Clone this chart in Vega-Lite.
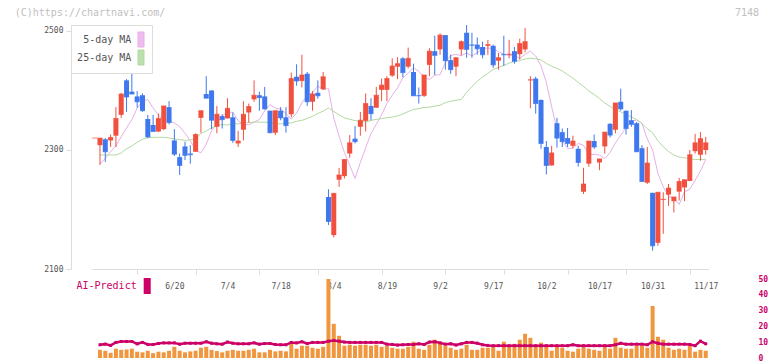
{
  "$schema": "https://vega.github.io/schema/vega-lite/v6.json",
  "background": "white",
  "padding": {"left": 14, "top": 7, "right": 0, "bottom": 0},
  "title": {"text": "(C)https://chartnavi.com/", "anchor": "start", "frame": "bounds", "font": "DejaVu Sans Mono", "fontSize": 10, "fontWeight": "normal", "color": "#c0c0c0", "dx": -29, "dy": 10, "offset": 0},
  "config": {"view": {"stroke": null}, "font": "DejaVu Sans Mono"},
  "spacing": 0,
  "bounds": "flush",
  "resolve": {"scale": {"color": "independent"}, "legend": {"color": "independent"}},
  "datasets": {
    "p": [
      {"d":"2025-05-30","o":2320,"h":2320,"l":2320,"c":2320,"v":null,"ai":null,"m5":null,"m25":null},
      {"d":"2025-06-02","o":2308,"h":2320,"l":2275,"c":2320,"v":5.2,"ai":8.4,"m5":2276,"m25":2291.6},
      {"d":"2025-06-03","o":2318,"h":2320,"l":2280,"c":2297,"v":4.6,"ai":8.8,"m5":2286,"m25":2291.6},
      {"d":"2025-06-04","o":2316,"h":2326,"l":2305,"c":2321,"v":3.3,"ai":8.0,"m5":2297,"m25":2291.6},
      {"d":"2025-06-05","o":2324,"h":2372,"l":2305,"c":2353,"v":5.9,"ai":9.9,"m5":2307,"m25":2291.6},
      {"d":"2025-06-06","o":2359,"h":2396,"l":2354,"c":2394,"v":5.2,"ai":10.5,"m5":2322.2,"m25":2295.0},
      {"d":"2025-06-09","o":2417,"h":2419,"l":2364,"c":2389,"v":5.4,"ai":10.5,"m5":2337.0,"m25":2302.0},
      {"d":"2025-06-10","o":2398,"h":2434,"l":2394,"c":2394,"v":5.9,"ai":10.5,"m5":2350.8,"m25":2306.7},
      {"d":"2025-06-11","o":2390,"h":2399,"l":2371,"c":2381,"v":4.0,"ai":9.0,"m5":2370.2,"m25":2312.9},
      {"d":"2025-06-12","o":2392,"h":2395,"l":2364,"c":2366,"v":3.6,"ai":9.9,"m5":2382.2,"m25":2317.9},
      {"d":"2025-06-13","o":2352,"h":2359,"l":2320,"c":2322,"v":4.6,"ai":8.6,"m5":2384.8,"m25":2320.7},
      {"d":"2025-06-16","o":2342,"h":2359,"l":2331,"c":2331,"v":3.1,"ai":8.6,"m5":2370.4,"m25":2321.3},
      {"d":"2025-06-17","o":2331,"h":2361,"l":2330,"c":2353,"v":4.0,"ai":9.2,"m5":2358.8,"m25":2321.3},
      {"d":"2025-06-18","o":2335,"h":2374,"l":2333,"c":2374,"v":3.6,"ai":9.6,"m5":2350.6,"m25":2321.3},
      {"d":"2025-06-19","o":2372,"h":2382,"l":2343,"c":2346,"v":4.6,"ai":9.6,"m5":2349.2,"m25":2320.2},
      {"d":"2025-06-20","o":2316,"h":2335,"l":2290,"c":2293,"v":7.1,"ai":9.6,"m5":2345.2,"m25":2318.5},
      {"d":"2025-06-23","o":2288,"h":2294,"l":2258,"c":2274,"v":4.6,"ai":8.8,"m5":2339.4,"m25":2317.4},
      {"d":"2025-06-24","o":2306,"h":2314,"l":2283,"c":2291,"v":3.6,"ai":9.4,"m5":2328.0,"m25":2316.2},
      {"d":"2025-06-25","o":2294,"h":2308,"l":2277,"c":2292,"v":4.2,"ai":9.4,"m5":2315.6,"m25":2316.8},
      {"d":"2025-06-26","o":2297,"h":2328,"l":2297,"c":2326,"v":4.6,"ai":9.4,"m5":2299.2,"m25":2319.0},
      {"d":"2025-06-27","o":2354,"h":2366,"l":2329,"c":2366,"v":6.5,"ai":9.4,"m5":2295.2,"m25":2327.5},
      {"d":"2025-06-30","o":2394,"h":2424,"l":2387,"c":2387,"v":7.1,"ai":10.3,"m5":2309.8,"m25":2332.0},
      {"d":"2025-07-01","o":2400,"h":2400,"l":2335,"c":2350,"v":5.2,"ai":9.4,"m5":2332.4,"m25":2337.0},
      {"d":"2025-07-02","o":2339,"h":2374,"l":2328,"c":2360,"v":4.4,"ai":9.0,"m5":2344.2,"m25":2340.9},
      {"d":"2025-07-03","o":2357,"h":2360,"l":2336,"c":2351,"v":3.6,"ai":8.8,"m5":2357.8,"m25":2342.6},
      {"d":"2025-07-04","o":2353,"h":2387,"l":2353,"c":2370,"v":4.6,"ai":10.1,"m5":2362.8,"m25":2342.0},
      {"d":"2025-07-07","o":2355,"h":2363,"l":2312,"c":2316,"v":5.2,"ai":9.4,"m5":2363.6,"m25":2344.0},
      {"d":"2025-07-08","o":2311,"h":2332,"l":2305,"c":2315,"v":4.6,"ai":9.0,"m5":2349.4,"m25":2343.9},
      {"d":"2025-07-09","o":2334,"h":2382,"l":2316,"c":2360,"v":4.6,"ai":9.0,"m5":2342.4,"m25":2344.6},
      {"d":"2025-07-10","o":2363,"h":2378,"l":2346,"c":2373,"v":5.2,"ai":9.0,"m5":2342.4,"m25":2346.2},
      {"d":"2025-07-11","o":2385,"h":2417,"l":2381,"c":2392,"v":5.9,"ai":9.6,"m5":2346.8,"m25":2347.0},
      {"d":"2025-07-14","o":2392,"h":2398,"l":2366,"c":2388,"v":3.6,"ai":8.8,"m5":2351.2,"m25":2346.9},
      {"d":"2025-07-15","o":2390,"h":2406,"l":2368,"c":2369,"v":3.6,"ai":9.2,"m5":2365.6,"m25":2346.8},
      {"d":"2025-07-16","o":2366,"h":2366,"l":2328,"c":2329,"v":5.2,"ai":9.2,"m5":2376.4,"m25":2345.8},
      {"d":"2025-07-17","o":2329,"h":2366,"l":2325,"c":2366,"v":4.2,"ai":8.6,"m5":2370.2,"m25":2343.8},
      {"d":"2025-07-18","o":2366,"h":2372,"l":2350,"c":2354,"v":4.6,"ai":8.4,"m5":2368.8,"m25":2343.8},
      {"d":"2025-07-22","o":2355,"h":2372,"l":2329,"c":2341,"v":4.2,"ai":8.4,"m5":2361.2,"m25":2345.0},
      {"d":"2025-07-23","o":2360,"h":2430,"l":2355,"c":2420,"v":9.0,"ai":9.9,"m5":2351.8,"m25":2345.4},
      {"d":"2025-07-24","o":2423,"h":2444,"l":2408,"c":2416,"v":5.9,"ai":9.6,"m5":2362.0,"m25":2348.1},
      {"d":"2025-07-25","o":2416,"h":2460,"l":2405,"c":2426,"v":7.8,"ai":10.3,"m5":2379.4,"m25":2349.8},
      {"d":"2025-07-28","o":2428,"h":2431,"l":2374,"c":2381,"v":7.8,"ai":9.2,"m5":2391.4,"m25":2353.0},
      {"d":"2025-07-29","o":2381,"h":2399,"l":2366,"c":2394,"v":6.5,"ai":9.9,"m5":2396.8,"m25":2356.5},
      {"d":"2025-07-30","o":2396,"h":2417,"l":2386,"c":2391,"v":5.9,"ai":9.9,"m5":2407.4,"m25":2361.3},
      {"d":"2025-07-31","o":2402,"h":2431,"l":2401,"c":2423,"v":7.1,"ai":9.9,"m5":2401.6,"m25":2365.3},
      {"d":"2025-08-01","o":2221,"h":2234,"l":2174,"c":2180,"v":50.1,"ai":10.7,"m5":2403.0,"m25":2370.6},
      {"d":"2025-08-04","o":2157,"h":2228,"l":2153,"c":2227,"v":21.7,"ai":11.1,"m5":2353.8,"m25":2364.7},
      {"d":"2025-08-05","o":2250,"h":2270,"l":2238,"c":2258,"v":14.1,"ai":10.7,"m5":2323.0,"m25":2359.2},
      {"d":"2025-08-06","o":2256,"h":2284,"l":2252,"c":2284,"v":7.8,"ai":10.1,"m5":2295.8,"m25":2354.0},
      {"d":"2025-08-07","o":2294,"h":2325,"l":2287,"c":2312,"v":8.4,"ai":9.9,"m5":2274.4,"m25":2351.4},
      {"d":"2025-08-08","o":2319,"h":2340,"l":2311,"c":2314,"v":7.8,"ai":9.9,"m5":2252.2,"m25":2349.4},
      {"d":"2025-08-12","o":2339,"h":2364,"l":2324,"c":2350,"v":8.4,"ai":9.9,"m5":2279.0,"m25":2348.0},
      {"d":"2025-08-13","o":2349,"h":2395,"l":2331,"c":2378,"v":8.4,"ai":9.9,"m5":2303.6,"m25":2347.2},
      {"d":"2025-08-14","o":2374,"h":2387,"l":2350,"c":2361,"v":7.8,"ai":9.9,"m5":2327.6,"m25":2349.6},
      {"d":"2025-08-15","o":2371,"h":2406,"l":2371,"c":2392,"v":8.4,"ai":9.9,"m5":2343.0,"m25":2351.5},
      {"d":"2025-08-18","o":2401,"h":2420,"l":2382,"c":2409,"v":7.1,"ai":9.9,"m5":2359.0,"m25":2352.8},
      {"d":"2025-08-19","o":2401,"h":2424,"l":2382,"c":2420,"v":7.8,"ai":8.8,"m5":2378.0,"m25":2354.2},
      {"d":"2025-08-20","o":2425,"h":2454,"l":2423,"c":2441,"v":6.5,"ai":8.6,"m5":2392.0,"m25":2355.3},
      {"d":"2025-08-21","o":2440,"h":2456,"l":2419,"c":2445,"v":5.9,"ai":8.2,"m5":2404.6,"m25":2357.4},
      {"d":"2025-08-22","o":2454,"h":2456,"l":2422,"c":2430,"v":5.9,"ai":8.4,"m5":2421.4,"m25":2360.5},
      {"d":"2025-08-25","o":2440,"h":2472,"l":2437,"c":2454,"v":7.1,"ai":8.6,"m5":2429.0,"m25":2364.5},
      {"d":"2025-08-26","o":2431,"h":2445,"l":2391,"c":2391,"v":10.3,"ai":8.6,"m5":2438.0,"m25":2368.0},
      {"d":"2025-08-27","o":2392,"h":2405,"l":2378,"c":2391,"v":5.9,"ai":9.0,"m5":2432.2,"m25":2369.5},
      {"d":"2025-08-28","o":2391,"h":2426,"l":2389,"c":2426,"v":5.2,"ai":8.6,"m5":2422.2,"m25":2371.5},
      {"d":"2025-08-29","o":2443,"h":2471,"l":2424,"c":2466,"v":8.4,"ai":10.1,"m5":2418.4,"m25":2371.8},
      {"d":"2025-09-01","o":2466,"h":2492,"l":2426,"c":2459,"v":11.6,"ai":10.3,"m5":2425.6,"m25":2373.8},
      {"d":"2025-09-02","o":2469,"h":2496,"l":2460,"c":2493,"v":10.3,"ai":9.6,"m5":2426.6,"m25":2375.1},
      {"d":"2025-09-03","o":2493,"h":2493,"l":2435,"c":2450,"v":7.8,"ai":8.8,"m5":2447.0,"m25":2379.6},
      {"d":"2025-09-04","o":2451,"h":2460,"l":2428,"c":2435,"v":6.5,"ai":9.0,"m5":2458.8,"m25":2381.8},
      {"d":"2025-09-05","o":2440,"h":2456,"l":2424,"c":2455,"v":5.2,"ai":8.2,"m5":2460.6,"m25":2383.6},
      {"d":"2025-09-08","o":2469,"h":2484,"l":2459,"c":2482,"v":5.9,"ai":9.0,"m5":2458.4,"m25":2384.8},
      {"d":"2025-09-09","o":2497,"h":2510,"l":2455,"c":2469,"v":8.4,"ai":9.9,"m5":2463.0,"m25":2396.9},
      {"d":"2025-09-10","o":2477,"h":2497,"l":2455,"c":2476,"v":5.2,"ai":9.9,"m5":2458.2,"m25":2406.6},
      {"d":"2025-09-11","o":2477,"h":2489,"l":2460,"c":2470,"v":5.2,"ai":9.4,"m5":2463.4,"m25":2415.3},
      {"d":"2025-09-12","o":2473,"h":2482,"l":2454,"c":2460,"v":6.5,"ai":8.4,"m5":2470.4,"m25":2422.8},
      {"d":"2025-09-16","o":2475,"h":2485,"l":2460,"c":2477,"v":6.5,"ai":8.0,"m5":2471.4,"m25":2428.7},
      {"d":"2025-09-17","o":2475,"h":2477,"l":2438,"c":2443,"v":7.8,"ai":7.8,"m5":2470.4,"m25":2435.2},
      {"d":"2025-09-18","o":2450,"h":2463,"l":2435,"c":2455,"v":4.6,"ai":7.8,"m5":2465.2,"m25":2438.9},
      {"d":"2025-09-19","o":2461,"h":2492,"l":2441,"c":2460,"v":10.3,"ai":7.8,"m5":2461.0,"m25":2442.0},
      {"d":"2025-09-22","o":2460,"h":2485,"l":2454,"c":2461,"v":7.1,"ai":7.8,"m5":2459.0,"m25":2446.0},
      {"d":"2025-09-24","o":2466,"h":2473,"l":2445,"c":2449,"v":9.0,"ai":7.8,"m5":2459.2,"m25":2448.7},
      {"d":"2025-09-25","o":2461,"h":2487,"l":2452,"c":2479,"v":11.6,"ai":7.8,"m5":2453.6,"m25":2450.3},
      {"d":"2025-09-26","o":2469,"h":2505,"l":2464,"c":2482,"v":15.4,"ai":7.8,"m5":2460.8,"m25":2452.7},
      {"d":"2025-09-29","o":2417,"h":2424,"l":2370,"c":2418,"v":12.8,"ai":7.8,"m5":2466.2,"m25":2454.3},
      {"d":"2025-09-30","o":2420,"h":2423,"l":2361,"c":2378,"v":7.1,"ai":7.8,"m5":2457.8,"m25":2453.2},
      {"d":"2025-10-01","o":2384,"h":2385,"l":2302,"c":2311,"v":9.7,"ai":7.8,"m5":2441.2,"m25":2451.2},
      {"d":"2025-10-02","o":2305,"h":2315,"l":2259,"c":2274,"v":7.8,"ai":7.8,"m5":2413.6,"m25":2445.4},
      {"d":"2025-10-03","o":2274,"h":2307,"l":2274,"c":2295,"v":4.6,"ai":7.8,"m5":2372.6,"m25":2440.8},
      {"d":"2025-10-06","o":2345,"h":2354,"l":2304,"c":2320,"v":7.1,"ai":7.8,"m5":2335.2,"m25":2436.9},
      {"d":"2025-10-07","o":2330,"h":2336,"l":2305,"c":2314,"v":6.5,"ai":7.8,"m5":2315.6,"m25":2432.7},
      {"d":"2025-10-08","o":2320,"h":2337,"l":2305,"c":2311,"v":4.6,"ai":7.8,"m5":2302.8,"m25":2426.6},
      {"d":"2025-10-09","o":2307,"h":2324,"l":2303,"c":2315,"v":4.0,"ai":8.4,"m5":2302.8,"m25":2420.7},
      {"d":"2025-10-10","o":2302,"h":2307,"l":2272,"c":2279,"v":5.9,"ai":7.8,"m5":2311.0,"m25":2413.6},
      {"d":"2025-10-14","o":2230,"h":2270,"l":2226,"c":2243,"v":7.1,"ai":7.8,"m5":2307.8,"m25":2406.7},
      {"d":"2025-10-15","o":2277,"h":2315,"l":2272,"c":2315,"v":5.9,"ai":7.8,"m5":2292.4,"m25":2399.0},
      {"d":"2025-10-16","o":2315,"h":2326,"l":2302,"c":2305,"v":5.2,"ai":7.8,"m5":2292.6,"m25":2393.4},
      {"d":"2025-10-17","o":2279,"h":2285,"l":2266,"c":2285,"v":4.6,"ai":7.8,"m5":2291.4,"m25":2386.4},
      {"d":"2025-10-20","o":2306,"h":2330,"l":2294,"c":2330,"v":7.1,"ai":7.8,"m5":2285.4,"m25":2379.0},
      {"d":"2025-10-21","o":2344,"h":2345,"l":2321,"c":2325,"v":5.9,"ai":7.8,"m5":2295.6,"m25":2373.2},
      {"d":"2025-10-22","o":2334,"h":2379,"l":2328,"c":2379,"v":12.8,"ai":8.4,"m5":2312.0,"m25":2367.4},
      {"d":"2025-10-23","o":2381,"h":2403,"l":2366,"c":2369,"v":6.5,"ai":9.4,"m5":2324.8,"m25":2364.1},
      {"d":"2025-10-24","o":2366,"h":2366,"l":2326,"c":2336,"v":5.9,"ai":8.8,"m5":2337.6,"m25":2359.8},
      {"d":"2025-10-27","o":2350,"h":2367,"l":2339,"c":2343,"v":5.9,"ai":8.8,"m5":2347.8,"m25":2355.5},
      {"d":"2025-10-28","o":2345,"h":2347,"l":2297,"c":2297,"v":7.8,"ai":8.8,"m5":2350.4,"m25":2351.0},
      {"d":"2025-10-29","o":2303,"h":2308,"l":2247,"c":2247,"v":7.8,"ai":8.8,"m5":2344.8,"m25":2344.5},
      {"d":"2025-10-30","o":2245,"h":2305,"l":2243,"c":2278,"v":6.5,"ai":8.4,"m5":2318.4,"m25":2336.0},
      {"d":"2025-10-31","o":2228,"h":2228,"l":2131,"c":2139,"v":33.0,"ai":10.3,"m5":2300.2,"m25":2329.1},
      {"d":"2025-11-04","o":2144,"h":2229,"l":2139,"c":2229,"v":13.5,"ai":9.4,"m5":2260.8,"m25":2315.5},
      {"d":"2025-11-05","o":2216,"h":2229,"l":2159,"c":2217,"v":11.6,"ai":8.8,"m5":2238.0,"m25":2305.4},
      {"d":"2025-11-06","o":2225,"h":2243,"l":2206,"c":2236,"v":6.5,"ai":8.8,"m5":2222.0,"m25":2297.4},
      {"d":"2025-11-07","o":2214,"h":2221,"l":2195,"c":2221,"v":5.2,"ai":8.8,"m5":2219.8,"m25":2291.7},
      {"d":"2025-11-10","o":2230,"h":2253,"l":2215,"c":2247,"v":5.9,"ai":8.8,"m5":2208.4,"m25":2288.1},
      {"d":"2025-11-11","o":2237,"h":2250,"l":2214,"c":2250,"v":5.2,"ai":8.8,"m5":2230.0,"m25":2287.0},
      {"d":"2025-11-12","o":2248,"h":2300,"l":2248,"c":2292,"v":7.8,"ai":8.6,"m5":2234.2,"m25":2285.2},
      {"d":"2025-11-13","o":2298,"h":2327,"l":2294,"c":2312,"v":4.0,"ai":7.8,"m5":2249.2,"m25":2284.1},
      {"d":"2025-11-14","o":2292,"h":2330,"l":2282,"c":2319,"v":5.2,"ai":10.7,"m5":2264.4,"m25":2284.0},
      {"d":"2025-11-17","o":2300,"h":2322,"l":2292,"c":2312,"v":4.6,"ai":9.0,"m5":2284.0,"m25":2284.3}
    ]
  },
  "vconcat": [
    {
      "width": 682,
      "height": 244,
      "data": {"name": "p"},
      "title": {"text": "7148", "anchor": "end", "frame": "group", "font": "DejaVu Sans Mono", "fontSize": 10, "fontWeight": "normal", "color": "#c0c0c0", "offset": 7, "dx": 6},
      "encoding": {
        "x": {"field": "d", "type": "ordinal", "scale": {"type": "point", "range": [21, 637.4]},
              "axis": {"orient": "bottom", "values": ["2025-06-11","2025-06-26","2025-07-14","2025-07-30","2025-08-18","2025-09-03","2025-09-19","2025-10-08","2025-10-24","2025-11-12"], "labels": false, "title": null, "grid": false, "domainColor": "#dcdcdc", "tickColor": "#dcdcdc", "tickSize": 5}}
      },
      "layer": [
        {
          "transform": [{"fold": ["m5", "m25"], "as": ["k", "val"]}],
          "mark": {"type": "line", "strokeWidth": 1},
          "encoding": {
            "y": {"field": "val", "type": "quantitative", "scale": {"domain": [2100, 2510], "nice": false, "zero": false},
                  "axis": {"values": [2100, 2300, 2500], "format": "d", "title": null, "grid": false, "tickSize": 5, "labelPadding": 3, "domainColor": "#dcdcdc", "tickColor": "#dcdcdc", "labelFont": "DejaVu Sans Mono", "labelFontSize": 8, "labelColor": "#555555", "labelOverlap": false, "labelFlush": false}},
            "color": {"field": "k", "type": "nominal", "scale": {"domain": ["m5", "m25"], "range": ["#e6b0e6", "#b2d9a2"]},
                      "legend": {"title": " ", "titleFontSize": 1, "titlePadding": 2.5, "orient": "top-left", "offset": 0, "padding": 6, "fillColor": "#ffffff", "strokeColor": "#dddddd",
                                 "symbolType": "M-0.857,-2.14H0.857V2.14H-0.857Z", "symbolSize": 49, "symbolStrokeWidth": 1, "symbolStrokeColor": "#555555",
                                 "labelAlign": "right", "labelOffset": -14.7, "symbolOffset": 59, "rowPadding": -2,
                                 "labelFont": "DejaVu Sans Mono", "labelFontSize": 10, "labelColor": "#555555",
                                 "labelExpr": "datum.label == 'm5' ? '5-day MA' : '25-day MA'",
                                 "encode": {"symbols": {"update": {"fill": {"signal": "datum.value == 'm5' ? '#eebcee' : '#bcdfae'"}, "fillOpacity": {"value": 1}, "stroke": {"value": "#555555"}, "strokeWidth": {"value": 1}, "opacity": {"value": 1}}}}}}
          }
        },
        {
          "mark": {"type": "rule", "strokeWidth": 1},
          "encoding": {
            "y": {"field": "l", "type": "quantitative", "scale": {"domain": [2100, 2510], "nice": false, "zero": false},
                  "axis": {"values": [2100, 2300, 2500], "format": "d", "title": null, "grid": false, "tickSize": 5, "labelPadding": 3, "domainColor": "#dcdcdc", "tickColor": "#dcdcdc", "labelFont": "DejaVu Sans Mono", "labelFontSize": 8, "labelColor": "#555555", "labelOverlap": false, "labelFlush": false}},
            "y2": {"field": "h"},
            "color": {"condition": {"test": "datum.c >= datum.o", "value": "#f2503e"}, "value": "#3f78ee"}
          }
        },
        {
          "mark": {"type": "bar", "size": 5},
          "encoding": {
            "y": {"field": "o", "type": "quantitative", "scale": {"domain": [2100, 2510], "nice": false, "zero": false},
                  "axis": {"values": [2100, 2300, 2500], "format": "d", "title": null, "grid": false, "tickSize": 5, "labelPadding": 3, "domainColor": "#dcdcdc", "tickColor": "#dcdcdc", "labelFont": "DejaVu Sans Mono", "labelFontSize": 8, "labelColor": "#555555", "labelOverlap": false, "labelFlush": false}},
            "y2": {"field": "c"},
            "color": {"condition": {"test": "datum.c >= datum.o", "value": "#f2503e"}, "value": "#3f78ee"}
          }
        },
        {
          "mark": {"type": "tick", "size": 5, "thickness": 1},
          "encoding": {
            "y": {"field": "c", "type": "quantitative", "scale": {"domain": [2100, 2510], "nice": false, "zero": false},
                  "axis": {"values": [2100, 2300, 2500], "format": "d", "title": null, "grid": false, "tickSize": 5, "labelPadding": 3, "domainColor": "#dcdcdc", "tickColor": "#dcdcdc", "labelFont": "DejaVu Sans Mono", "labelFontSize": 8, "labelColor": "#555555", "labelOverlap": false, "labelFlush": false}},
            "color": {"condition": {"test": "datum.c >= datum.o", "value": "#f2503e"}, "value": "#3f78ee"}
          }
        }
      ]
    },
    {
      "width": 682,
      "height": 89,
      "data": {"name": "p"},
      "encoding": {
        "x": {"field": "d", "type": "ordinal", "scale": {"type": "point", "range": [21, 637.4]},
              "axis": {"orient": "top", "values": ["2025-06-20","2025-07-04","2025-07-18","2025-08-04","2025-08-19","2025-09-02","2025-09-17","2025-10-02","2025-10-17","2025-10-31","2025-11-17"],
                       "labelExpr": "toNumber(substring(datum.value,5,7)) + '/' + toNumber(substring(datum.value,8,10))",
                       "ticks": false, "tickSize": 0, "domain": false, "grid": false, "title": null, "labelAngle": 0, "labelOverlap": false, "labelFlush": false,
                       "labelPadding": -17, "labelBaseline": "middle", "labelFont": "DejaVu Sans Mono", "labelFontSize": 8, "labelColor": "#555555"}}
      },
      "layer": [
        {
          "mark": {"type": "bar", "size": 4, "color": "#f0963e"},
          "encoding": {
            "y": {"field": "v", "type": "quantitative", "scale": {"domain": [0, 56.5], "nice": false},
                  "axis": {"orient": "right", "values": [0, 10, 20, 30, 40, 50], "title": null, "grid": false, "domain": false, "ticks": false, "labelPadding": 5, "labelColor": "#cc0066", "labelFont": "DejaVu Sans Mono", "labelFontSize": 8, "labelFontWeight": "bold", "labelOverlap": false, "labelFlush": false}}
          }
        },
        {
          "mark": {"type": "line", "strokeWidth": 2.5, "point": {"shape": "square", "size": 9, "filled": true}},
          "encoding": {
            "y": {"field": "ai", "type": "quantitative", "scale": {"domain": [0, 56.5], "nice": false},
                  "axis": {"orient": "right", "values": [0, 10, 20, 30, 40, 50], "title": null, "grid": false, "domain": false, "ticks": false, "labelPadding": 5, "labelColor": "#cc0066", "labelFont": "DejaVu Sans Mono", "labelFontSize": 8, "labelFontWeight": "bold", "labelOverlap": false, "labelFlush": false}},
            "color": {"datum": "AI-Predict", "type": "nominal", "scale": {"range": ["#cc0066"]},
                      "legend": {"title": null, "orient": "none", "legendX": 6, "legendY": 9, "padding": 0,
                                 "symbolType": "M-0.44,-1H0.44V1H-0.44Z", "symbolSize": 256,
                                 "labelAlign": "right", "labelOffset": -18.5, "symbolOffset": 62.2,
                                 "labelFont": "DejaVu Sans Mono", "labelFontSize": 10, "labelColor": "#cc0066",
                                 "encode": {"symbols": {"update": {"fill": {"value": "#cc0066"}, "fillOpacity": {"value": 1}, "stroke": {"value": "#cc0066"}, "strokeWidth": {"value": 0}, "opacity": {"value": 1}}}}}}
          }
        }
      ]
    }
  ]
}
